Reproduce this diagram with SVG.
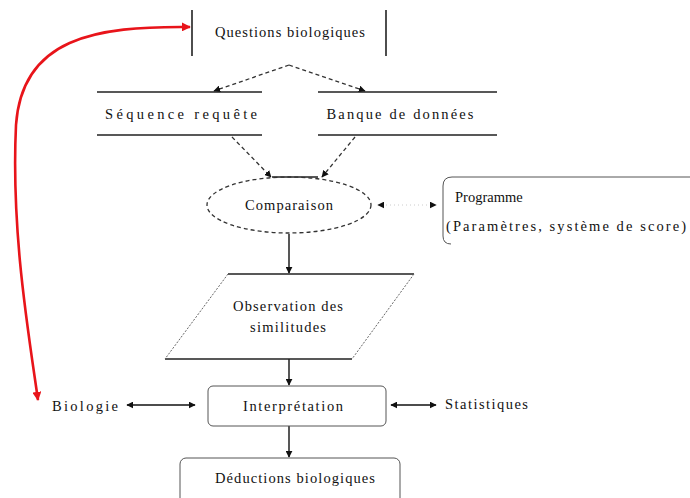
<svg xmlns="http://www.w3.org/2000/svg" width="690" height="498" viewBox="0 0 690 498">
  <defs>
    <marker id="ah" viewBox="0 0 10 10" refX="9" refY="5" markerWidth="7" markerHeight="7" orient="auto-start-reverse" markerUnits="userSpaceOnUse">
      <path d="M0,0 L10,5 L0,10 z" fill="#111"/>
    </marker>
    <marker id="ahr" viewBox="0 0 10 10" refX="9" refY="5" markerWidth="9" markerHeight="9" orient="auto-start-reverse" markerUnits="userSpaceOnUse">
      <path d="M0,0 L10,5 L0,10 z" fill="#e8141a"/>
    </marker>
  </defs>
  <style>
    text { font-family: "Liberation Serif", "Times New Roman", serif; font-size: 14.5px; fill: #111; }
    .c { text-anchor: middle; }
    .ln { stroke: #222; stroke-width: 1.6; fill: none; }
    .thin { stroke: #555; stroke-width: 1; fill: none; }
    .dash { stroke: #333; stroke-width: 1.3; fill: none; stroke-dasharray: 4 3; }
    .arr { stroke: #111; stroke-width: 1.4; fill: none; }
  </style>
  <rect width="690" height="498" fill="#fff"/>

  <g id="connectors">
    <path class="dash" d="M289,65 L214,91" marker-end="url(#ah)"/>
    <path class="dash" d="M289,65 L365,91" marker-end="url(#ah)"/>
    <path class="dash" d="M232,137 L271,177" marker-end="url(#ah)"/>
    <path class="dash" d="M355,137 L322,177" marker-end="url(#ah)"/>
    <path d="M378,205 L436,205" stroke="#ccc" stroke-width="1" stroke-dasharray="1 3" fill="none" marker-start="url(#ah)" marker-end="url(#ah)"/>
    <path class="arr" d="M289,234 L289,273" marker-end="url(#ah)"/>
    <path class="arr" d="M289,359 L289,385" marker-end="url(#ah)"/>
    <path class="arr" d="M289,426 L289,457" marker-end="url(#ah)"/>
    <path class="arr" d="M127,405 L195,405" marker-start="url(#ah)" marker-end="url(#ah)"/>
    <path class="arr" d="M391,405 L436,405" marker-start="url(#ah)" marker-end="url(#ah)"/>
    <path d="M190,27 C95,26 22,38 16,125 C11,230 28,330 38,400" stroke="#e8141a" stroke-width="2.6" fill="none" marker-start="url(#ahr)" marker-end="url(#ahr)"/>
  </g>

  <g id="questions">
    <path class="ln" d="M192,10 L192,56 M386,10 L386,56"/>
    <text class="c" x="290" y="37" textLength="150">Questions biologiques</text>
  </g>

  <g id="sequence">
    <path class="ln" d="M97,92 L262,92 M97,135 L262,135"/>
    <text class="c" x="181" y="119" textLength="152">Séquence requête</text>
  </g>

  <g id="banque">
    <path class="ln" d="M318,92 L497,92 M318,135 L497,135"/>
    <text class="c" x="400" y="119" textLength="147">Banque de données</text>
  </g>

  <g id="comparaison">
    <path class="ln" d="M272,177 L318,177"/>
    <ellipse class="dash" cx="289" cy="205" rx="82" ry="28"/>
    <text class="c" x="289" y="210" textLength="88">Comparaison</text>
  </g>

  <g id="programme">
    <path class="thin" stroke="#444" d="M690,177 L452,177 Q443,177 443,186 L443,236 Q443,244 451,244"/>
    <text x="455" y="202">Programme</text>
    <text x="446" y="231" textLength="240">(Paramètres, système de score)</text>
  </g>

  <g id="observation">
    <path class="ln" stroke-width="1.2" d="M228,274 L414,274 M165,359 L352,359"/>
    <path d="M228,274 L165,359 M414,274 L352,359" stroke="#666" stroke-width="1" stroke-dasharray="2 1.5" fill="none"/>
    <text class="c" x="288" y="311" textLength="110">Observation des</text>
    <text class="c" x="288" y="332" textLength="76">similitudes</text>
  </g>

  <g id="interpretation">
    <rect class="thin" x="208" y="386" width="178" height="40" rx="5"/>
    <text class="c" x="293" y="411" textLength="100">Interprétation</text>
  </g>

  <g id="biologie">
    <text x="52" y="411" textLength="66">Biologie</text>
  </g>

  <g id="statistiques">
    <text x="445" y="409" textLength="83">Statistiques</text>
  </g>

  <g id="deductions">
    <rect class="thin" x="180" y="458" width="220" height="50" rx="6"/>
    <text class="c" x="295" y="483" textLength="160">Déductions biologiques</text>
  </g>
</svg>
